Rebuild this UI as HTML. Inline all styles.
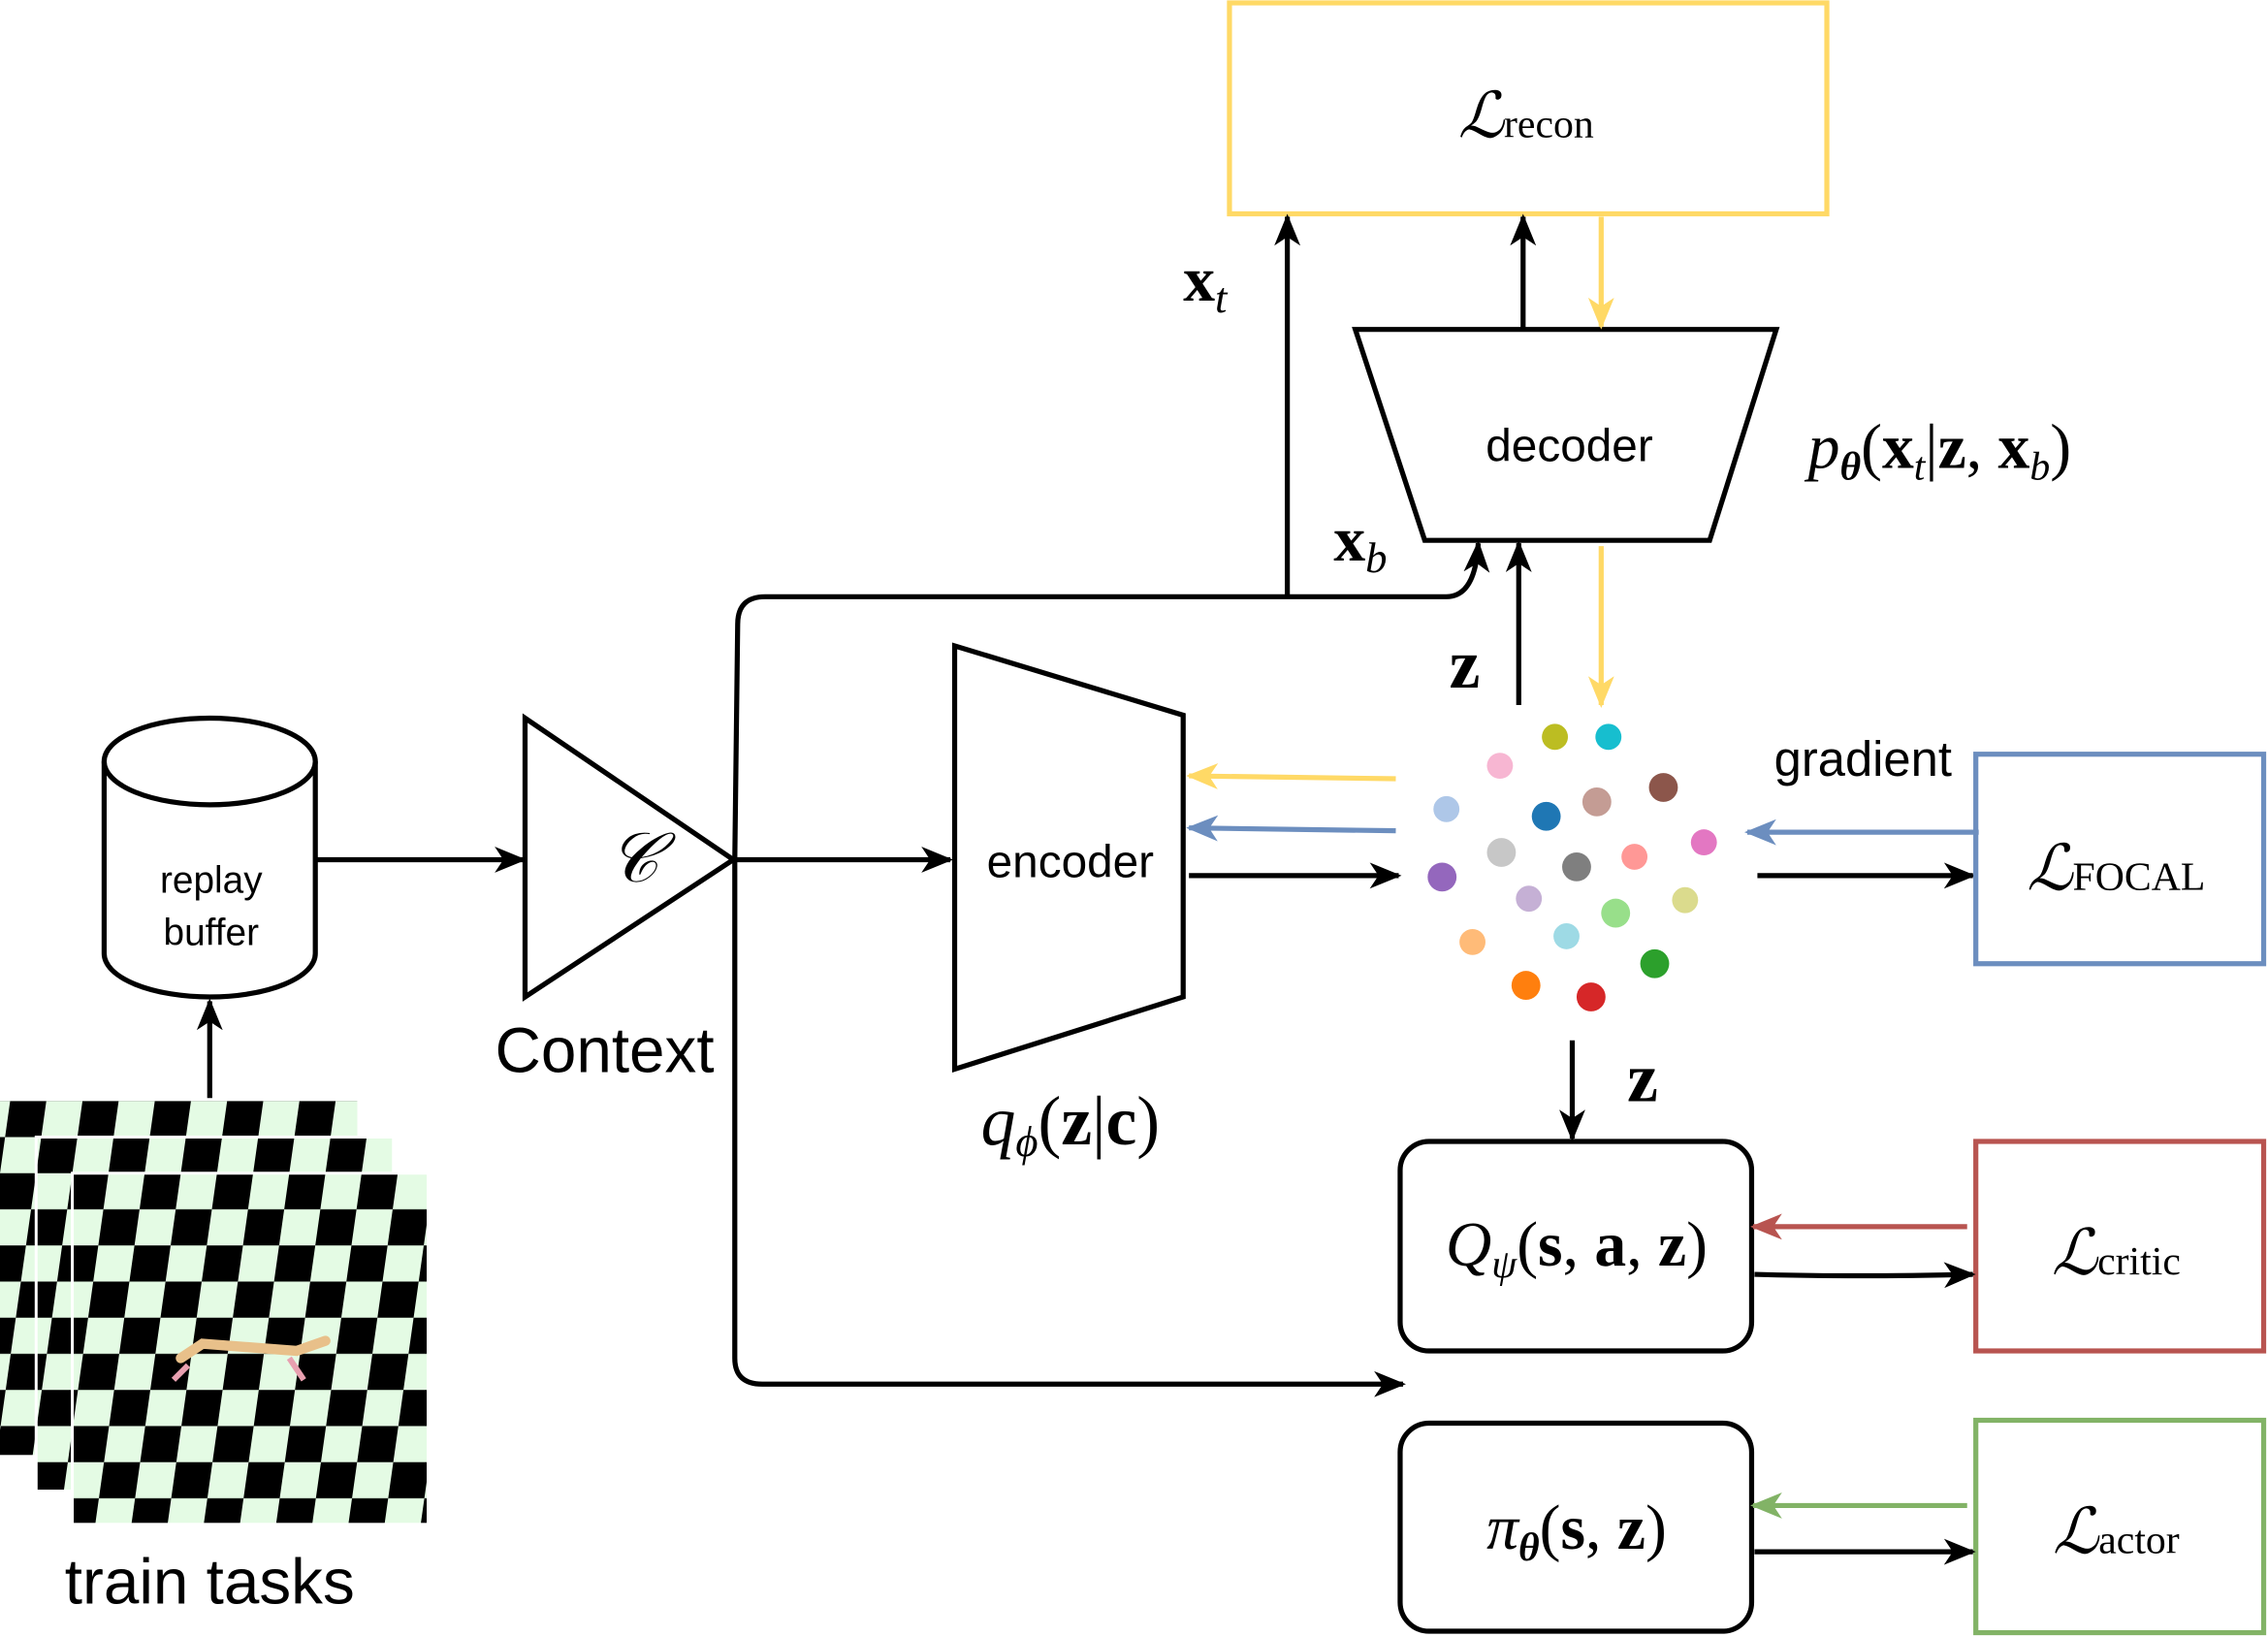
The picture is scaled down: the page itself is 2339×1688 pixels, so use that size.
<!DOCTYPE html>
<html><head><meta charset="utf-8"><style>
html,body{margin:0;padding:0;background:#fff;}
svg{display:block;}
.s{font-family:"Liberation Sans",sans-serif;}
.m{font-family:"Liberation Serif","DejaVu Serif",serif;}
</style></head><body>
<svg width="2339" height="1688" viewBox="0 0 1568 1133" preserveAspectRatio="none" xmlns="http://www.w3.org/2000/svg">
<defs>
<marker id="ak" markerWidth="22" markerHeight="18" refX="20" refY="9" orient="auto" markerUnits="userSpaceOnUse" viewBox="0 0 22 18"><path d="M0,0 L22,9 L0,18 L6,9z" fill="#000"/></marker>
<marker id="ay" markerWidth="22" markerHeight="18" refX="20" refY="9" orient="auto" markerUnits="userSpaceOnUse" viewBox="0 0 22 18"><path d="M0,0 L22,9 L0,18 L6,9z" fill="#FFD966"/></marker>
<marker id="ab" markerWidth="22" markerHeight="18" refX="20" refY="9" orient="auto" markerUnits="userSpaceOnUse" viewBox="0 0 22 18"><path d="M0,0 L22,9 L0,18 L6,9z" fill="#6C8EBF"/></marker>
<marker id="ar" markerWidth="22" markerHeight="18" refX="20" refY="9" orient="auto" markerUnits="userSpaceOnUse" viewBox="0 0 22 18"><path d="M0,0 L22,9 L0,18 L6,9z" fill="#B85450"/></marker>
<marker id="ag" markerWidth="22" markerHeight="18" refX="20" refY="9" orient="auto" markerUnits="userSpaceOnUse" viewBox="0 0 22 18"><path d="M0,0 L22,9 L0,18 L6,9z" fill="#82B366"/></marker>
<pattern id="chk" width="50" height="50" patternUnits="userSpaceOnUse" patternTransform="translate(0,812) skewX(-8)">
<rect width="50" height="50" fill="#e4fbe4"/><rect width="25" height="25" fill="#000"/><rect x="25" y="25" width="25" height="25" fill="#000"/></pattern>
</defs>
<g stroke-width="3.5" fill="none">
<rect x="850" y="2" width="413" height="146" stroke="#FFD966"/>
<path d="M937,228 L1228,228 L1182,374 L985,374 Z" stroke="#000"/>
<path d="M890,413 L890,150" stroke="#000" marker-end="url(#ak)"/>
<path d="M1053,228 L1053,150" stroke="#000" marker-end="url(#ak)"/>
<path d="M1107,150 L1107,226" stroke="#FFD966" marker-end="url(#ay)"/>
<path d="M1107,378 L1107,488" stroke="#FFD966" marker-end="url(#ay)"/>
<path d="M1050,488 L1050,376" stroke="#000" marker-end="url(#ak)"/>
<path d="M508,595 L510,432 Q510,413 529,413 L1000,413 Q1020,413 1022,376" stroke="#000" marker-end="url(#ak)"/>
<path d="M363,497 L363,690 L507,595 Z" stroke="#000"/>
<path d="M72,527 L72,660 A73,30 0 0 0 218,660 L218,527" stroke="#000" fill="#fff"/>
<ellipse cx="145" cy="527" rx="73" ry="30" stroke="#000" fill="#fff"/>
<path d="M218,595 L362,595" stroke="#000" marker-end="url(#ak)"/>
<path d="M145,760 L145,693" stroke="#000" marker-end="url(#ak)"/>
<path d="M507,595 L657,595" stroke="#000" marker-end="url(#ak)"/>
<path d="M660,447 L818,495 L818,690 L660,740 Z" stroke="#000"/>
<path d="M965,539 L822,537" stroke="#FFD966" marker-end="url(#ay)"/>
<path d="M965,575 L822,573" stroke="#6C8EBF" marker-end="url(#ab)"/>
<path d="M822,606 L967,606" stroke="#000" marker-end="url(#ak)"/>
<path d="M1368,576 L1208,576" stroke="#6C8EBF" marker-end="url(#ab)"/>
<path d="M1215,606 L1364,606" stroke="#000" marker-end="url(#ak)"/>
<rect x="1366" y="522" width="199" height="145" stroke="#6C8EBF"/>
<path d="M1087,720 L1087,788" stroke="#000" marker-end="url(#ak)"/>
<rect x="968" y="790" width="243" height="145" rx="20" stroke="#000"/>
<rect x="1366" y="790" width="199" height="145" stroke="#B85450"/>
<path d="M1360,849 L1212,849" stroke="#B85450" marker-end="url(#ar)"/>
<path d="M1213,882 Q1280,884 1364,882" stroke="#000" marker-end="url(#ak)"/>
<path d="M508,595 L508,940 Q508,958 527,958 L970,958" stroke="#000" marker-end="url(#ak)"/>
<rect x="968" y="985" width="243" height="144" rx="20" stroke="#000"/>
<rect x="1366" y="983" width="199" height="147" stroke="#82B366"/>
<path d="M1360,1042 L1212,1042" stroke="#82B366" marker-end="url(#ag)"/>
<path d="M1213,1074 L1364,1074" stroke="#000" marker-end="url(#ak)"/>
</g>
<g>
<rect x="0" y="762" width="247" height="245" fill="url(#chk)"/>
<rect x="25" y="787" width="247" height="245" fill="url(#chk)" stroke="#fff" stroke-width="2"/>
<rect x="50" y="812" width="246" height="243" fill="url(#chk)" stroke="#fff" stroke-width="2"/>
<path d="M125,940 L140,930 L205,935 L225,928" stroke="#e8c08a" stroke-width="7" fill="none" stroke-linecap="round"/>
<path d="M130,945 L120,955 M200,940 L210,955" stroke="#e8a0b0" stroke-width="4" fill="none"/>
</g>
<g>
<circle cx="1075" cy="510" r="9" fill="#bcbd22"/>
<circle cx="1112" cy="510" r="9" fill="#17becf"/>
<circle cx="1037" cy="530" r="9" fill="#f7b6d2"/>
<circle cx="1150" cy="545" r="10" fill="#8c564b"/>
<circle cx="1000" cy="560" r="9" fill="#aec7e8"/>
<circle cx="1069" cy="565" r="10" fill="#1f77b4"/>
<circle cx="1104" cy="555" r="10" fill="#c49c94"/>
<circle cx="1178" cy="583" r="9" fill="#e377c2"/>
<circle cx="1038" cy="590" r="10" fill="#c7c7c7"/>
<circle cx="1090" cy="600" r="10" fill="#7f7f7f"/>
<circle cx="1130" cy="593" r="9" fill="#ff9896"/>
<circle cx="997" cy="607" r="10" fill="#9467bd"/>
<circle cx="1057" cy="622" r="9" fill="#c5b0d5"/>
<circle cx="1117" cy="632" r="10" fill="#98df8a"/>
<circle cx="1165" cy="623" r="9" fill="#dbdb8d"/>
<circle cx="1018" cy="652" r="9" fill="#ffbb78"/>
<circle cx="1083" cy="648" r="9" fill="#9edae5"/>
<circle cx="1144" cy="667" r="10" fill="#2ca02c"/>
<circle cx="1055" cy="682" r="10" fill="#ff7f0e"/>
<circle cx="1100" cy="690" r="10" fill="#d62728"/>
</g>
<g fill="#000">
<text x="1055" y="95" class="m" font-size="44" text-anchor="middle" font-style="italic">ℒ<tspan font-size="28" font-style="normal">recon</tspan></text>
<text x="1085" y="319" class="s" font-size="32" text-anchor="middle">decoder</text>
<text x="1250" y="324" class="m" font-size="44" font-style="italic">p<tspan font-size="28" dy="8" font-weight="bold">θ</tspan><tspan dy="-8" font-style="normal">(</tspan><tspan font-weight="bold" font-style="normal">x</tspan><tspan font-size="28" dy="8">t</tspan><tspan dy="-8" font-style="normal">|</tspan><tspan font-weight="bold" font-style="normal">z</tspan><tspan font-style="normal">, </tspan><tspan font-weight="bold" font-style="normal">x</tspan><tspan font-size="28" dy="8">b</tspan><tspan dy="-8" font-style="normal">)</tspan></text>
<text x="818" y="208" class="m" font-size="44" font-weight="bold">x<tspan font-size="30" dy="8" font-style="italic" font-weight="normal">t</tspan></text>
<text x="922" y="388" class="m" font-size="44" font-weight="bold">x<tspan font-size="30" dy="8" font-style="italic" font-weight="normal">b</tspan></text>
<text x="1002" y="476" class="m" font-size="48" font-weight="bold">z</text>
<text x="1125" y="762" class="m" font-size="48" font-weight="bold">z</text>
<text x="438" y="610" class="m" font-size="48" text-anchor="middle" font-style="italic">𝒞</text>
<text x="418" y="742" class="s" font-size="44" text-anchor="middle">Context</text>
<text x="146" y="618" class="s" font-size="26" text-anchor="middle">replay</text>
<text x="146" y="654" class="s" font-size="26" text-anchor="middle">buffer</text>
<text x="145" y="1110" class="s" font-size="44" text-anchor="middle">train tasks</text>
<text x="740" y="607" class="s" font-size="32" text-anchor="middle">encoder</text>
<text x="740" y="792" class="m" font-size="48" text-anchor="middle" font-style="italic">q<tspan font-size="30" dy="8">ϕ</tspan><tspan dy="-8" font-style="normal">(</tspan><tspan font-weight="bold" font-style="normal">z</tspan><tspan font-style="normal">|</tspan><tspan font-weight="bold" font-style="normal">c</tspan><tspan font-style="normal">)</tspan></text>
<text x="1288" y="537" class="s" font-size="34" text-anchor="middle">gradient</text>
<text x="1463" y="616" class="m" font-size="44" text-anchor="middle" font-style="italic">ℒ<tspan font-size="28" font-style="normal">FOCAL</tspan></text>
<text x="1090" y="876" class="m" font-size="44" text-anchor="middle" font-style="italic">Q<tspan font-size="28" dy="8">ψ</tspan><tspan dy="-8" font-style="normal">(</tspan><tspan font-weight="bold" font-style="normal">s</tspan><tspan font-style="normal">, </tspan><tspan font-weight="bold" font-style="normal">a</tspan><tspan font-style="normal">, </tspan><tspan font-weight="bold" font-style="normal">z</tspan><tspan font-style="normal">)</tspan></text>
<text x="1463" y="882" class="m" font-size="44" text-anchor="middle" font-style="italic">ℒ<tspan font-size="28" font-style="normal">critic</tspan></text>
<text x="1090" y="1072" class="m" font-size="44" text-anchor="middle" font-style="italic">π<tspan font-size="28" dy="8" font-weight="bold">θ</tspan><tspan dy="-8" font-style="normal">(</tspan><tspan font-weight="bold" font-style="normal">s</tspan><tspan font-style="normal">, </tspan><tspan font-weight="bold" font-style="normal">z</tspan><tspan font-style="normal">)</tspan></text>
<text x="1463" y="1075" class="m" font-size="44" text-anchor="middle" font-style="italic">ℒ<tspan font-size="28" font-style="normal">actor</tspan></text>
</g>
</svg>
</body></html>
